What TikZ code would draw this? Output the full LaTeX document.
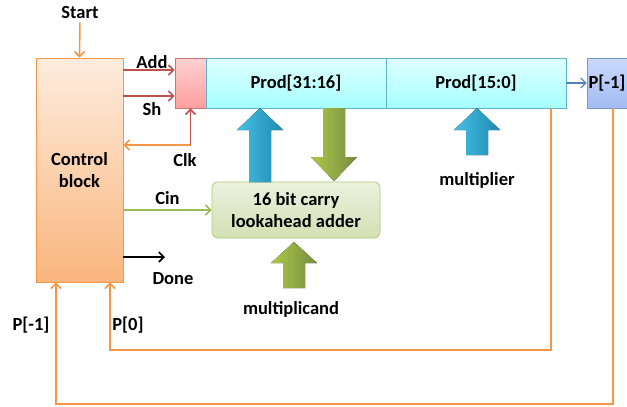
\documentclass[tikz,border=0pt]{standalone}
\usepackage{fontspec}
\setmainfont{Carlito}
\usetikzlibrary{arrows.meta}

\definecolor{offorange}{HTML}{F79646}
\definecolor{offred}{HTML}{C0504D}
\definecolor{offgreen}{HTML}{9BBB59}
\definecolor{offblue}{HTML}{4F81BD}
\definecolor{offaqua}{HTML}{4BACC6}
\definecolor{pmtop}{HTML}{CAD9FB}
\definecolor{pmbot}{HTML}{A3BBF2}
\definecolor{fbleft}{HTML}{45BFE6}
\definecolor{fbright}{HTML}{1F8AAE}

\tikzset{
  lbl/.style={font=\fontsize{18.5}{22}\selectfont\bfseries, text=black},
  box/.style={draw, line width=0.8pt, minimum height=50pt, inner sep=0pt, lbl},
  sig/.style={line width=1.6pt, -{Straight Barb[length=5pt,width=10pt]}},
  fatblue/.style={left color=fbleft, right color=fbright},
  fatgreen/.style={left color=offgreen!80!yellow, right color=offgreen!75!black}
}

% vertical block arrow: style, x, tail y, head base y, tip y
\newcommand{\fatarrow}[5]{%
  \fill[#1] ({#2-11},#3) -- ({#2-11},#4) -- ({#2-23},#4) -- (#2,#5)
    -- ({#2+23},#4) -- ({#2+11},#4) -- ({#2+11},#3) -- cycle;
}

\begin{document}
\begin{tikzpicture}[x=1pt,y=-1pt]
  \useasboundingbox (0,0) rectangle (627,407);

  % blocks
  \node[box, draw=offorange, top color=offorange!18, bottom color=offorange!70,
    minimum width=87pt, minimum height=224pt, align=center] (ctrl) at (79.5,170) {Control\\block};
  \node[box, draw=offred!80, top color=red!18, bottom color=red!38,
    minimum width=31pt] (reg) at (190.5,83) {};
  \node[box, draw=offaqua!90, top color=cyan!12, bottom color=cyan!35,
    minimum width=180pt] (hi) at (296,83) {Prod[31:16]};
  \node[box, draw=offaqua!90, top color=cyan!12, bottom color=cyan!35,
    minimum width=180pt] (lo) at (476,83) {Prod[15:0]};
  \node[box, draw=offblue!80, top color=pmtop, bottom color=pmbot,
    minimum width=52pt] (pm1) at (613,83) {};
  \node[lbl] (pm1txt) at (607,83) {P[-1]};
  \node[box, draw=offgreen!80, rounded corners=6pt, top color=offgreen!20,
    bottom color=offgreen!45, minimum width=168pt, minimum height=56pt,
    align=center] (adder) at (296,210) {16 bit carry\\lookahead adder};

  % control signals
  \node[lbl] (start) at (80,13) {Start};
  \draw[sig, offorange] (start) -- (ctrl.north);

  \coordinate (addin) at ([yshift=13pt]reg.west);
  \coordinate (shin) at ([yshift=-13pt]reg.west);
  \draw[sig, offred] (ctrl.east |- addin) -- node[lbl, above=-3pt, xshift=3pt] {Add} (addin);
  \draw[sig, offred] (ctrl.east |- shin) -- node[lbl, below=2pt, xshift=3pt] {Sh} (shin);

  \coordinate (clk) at (reg.south |- 0,145);
  \draw[sig, offorange] (clk) -- (ctrl.east |- clk);
  \draw[sig, offred] (clk) -- (reg.south);
  \node[lbl] (clklbl) at (185,160) {Clk};

  \draw[sig, offgreen] (ctrl.east |- adder.west) -- node[lbl, above=1pt] {Cin} (adder.west);

  \coordinate (done) at (165,257);
  \draw[sig, black] (ctrl.east |- done) -- (done);
  \node[lbl] (donelbl) at (173,279) {Done};

  \draw[sig, line width=1.2pt, offblue] (lo.east) -- (pm1.west);

  % data paths
  \fatarrow{fatblue}{260}{182}{130}{108}
  \fatarrow{fatgreen}{334}{108}{157}{181}
  \fatarrow{fatblue}{477}{155}{130}{108}
  \node[lbl] (mplier) at (477,180) {multiplier};
  \fatarrow{fatgreen}{294}{288}{263}{242}
  \node[lbl] (mcand) at (291,309) {multiplicand};

  % feedback to control
  \coordinate (p0in) at ([xshift=30.5pt]ctrl.south);
  \coordinate (pm1in) at ([xshift=-23.5pt]ctrl.south);
  \draw[sig, offorange] ([xshift=75pt]lo.south) |- (p0in |- 0,350) -- (p0in);
  \draw[sig, offorange] (pm1.south) |- (pm1in |- 0,404) -- (pm1in);
  \node[lbl] (p0lbl) at (128,325) {P[0]};
  \node[lbl] (pm1lbl) at (31,325) {P[-1]};
\end{tikzpicture}
\end{document}
